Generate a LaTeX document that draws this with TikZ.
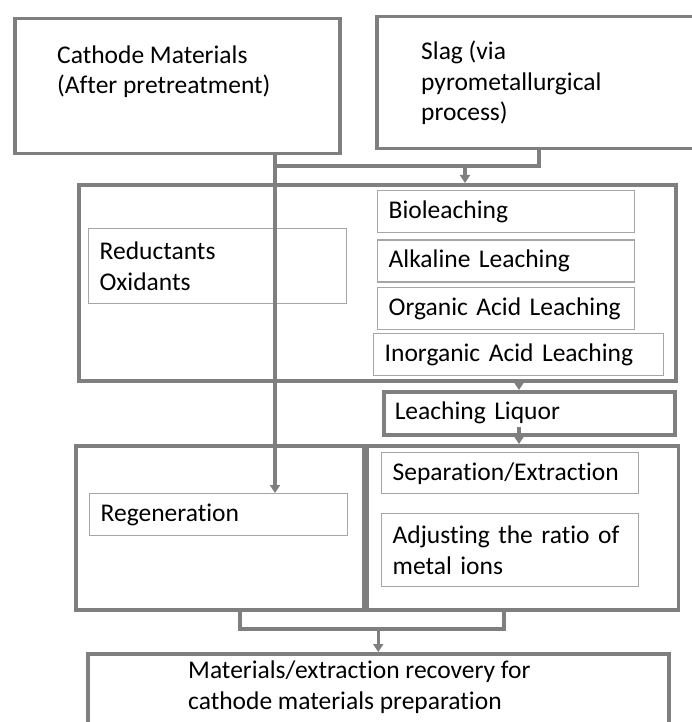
\documentclass[tikz,border=0pt]{standalone}
\usepackage{fontspec}
\setmainfont[Ligatures={NoCommon}]{Carlito}
\usetikzlibrary{arrows.meta, positioning, calc}
\definecolor{linegray}{HTML}{7F7F7F}
\definecolor{thingray}{HTML}{A6A6A6}

\begin{document}
\begin{tikzpicture}[
        x=1pt, y=-1pt,
        font=\fontsize{25.5}{30.6}\selectfont,
        bigbox/.style={rectangle, draw=linegray, line width=3.5pt, anchor=north west, inner sep=0pt},
        inbox/.style={rectangle, draw=thingray, line width=1.4pt, anchor=north west, align=left, inner xsep=11pt, inner ysep=0pt},
        txt/.style={anchor=base west, align=left, inner sep=0pt}, % base = last line
        link/.style={draw=linegray, line width=3.5pt},
        arrow/.style={link, -{Triangle[width=10pt, length=8pt]}}
    ]
    \useasboundingbox (0,0) rectangle (691,722);

    % --- Inputs ---
    \node[bigbox, minimum width=325pt, minimum height=135pt] (cathode) at (13,17) {};
    \node[txt] (cathodetxt) at ($(cathode.north west)+(44,77)$) {Cathode Materials\\(After pretreatment)};
    \node[bigbox, minimum width=325pt, minimum height=132pt] (slag) at (375,15) {};
    \node[txt] (slagtxt) at ($(slag.north west)+(46,106)$) {Slag (via\\pyrometallurgical\\process)};

    % --- Leaching stage ---
    \node[bigbox, minimum width=597pt, minimum height=196pt] (leach) at (77,183) {};
    \node[inbox, text width=236pt, minimum height=75pt] (redox) at (88,228) {Reductants\\Oxidants};
    \node[inbox, text width=235pt, minimum height=42pt] (bio) at (377,190) {Bioleaching};
    \node[inbox, text width=235pt, minimum height=42pt, below=6pt of bio.south west, anchor=north west] (alkali) {Alkaline Leaching};
    \node[inbox, text width=235pt, minimum height=42pt, below=4pt of alkali.south west, anchor=north west] (organic) {Organic Acid Leaching};
    \node[inbox, text width=268pt, minimum height=42pt] (inorganic) at (373,333) {Inorganic Acid Leaching};

    \node[bigbox, inner xsep=11pt, align=left, text width=269pt, minimum height=43pt] (liquor) at (382,390) {Leaching Liquor};

    % --- Regeneration / refining stage ---
    \node[bigbox, minimum width=288pt, minimum height=164pt] (regenstage) at (74,444) {};
    \node[bigbox, minimum width=311pt, minimum height=164pt, right=0pt of regenstage.north east, anchor=north west] (refinestage) {};
    \node[inbox, text width=236pt, minimum height=42pt] (regen) at (89,493) {Regeneration};
    \node[inbox, text width=235pt, minimum height=41pt] (sepext) at (381,452) {Separation/Extraction};
    \node[inbox, text width=235pt, minimum height=73pt] (ratio) at (381,513) {Adjusting the ratio of\\metal ions};

    % --- Output ---
    \node[bigbox, minimum width=581pt, minimum height=100pt] (recovery) at (86,652) {};
    \node[txt] (recoverytxt) at ($(recovery.north west)+(102,57)$) {Materials/extraction recovery for\\cathode materials preparation};

    % --- Edges ---
    \coordinate (catdrop) at (275,166);
    \coordinate (slagdrop) at (539,166);
    \coordinate (feed) at (465,166);
    \coordinate (liqx) at (519,0);
    \coordinate (busl) at (240,629);
    \coordinate (busr) at (504,629);

    \draw[link] (slag.south -| slagdrop) -- (slagdrop) -- (catdrop);
    \draw[arrow] (feed) -- (leach.north -| feed);
    \draw[arrow] (cathode.south -| catdrop) -- (regen.north -| catdrop);

    \draw[arrow] (leach.south -| liqx) -- (liquor.north -| liqx);
    \draw[arrow] ([yshift=10pt]liquor.south -| liqx) -- (refinestage.north -| liqx);

    \draw[link] (regenstage.south -| busl) -- (busl) -- (busr) -- (refinestage.south -| busr);
    \draw[arrow] (busl -| recovery.north) -- (recovery.north);

\end{tikzpicture}
\end{document}
